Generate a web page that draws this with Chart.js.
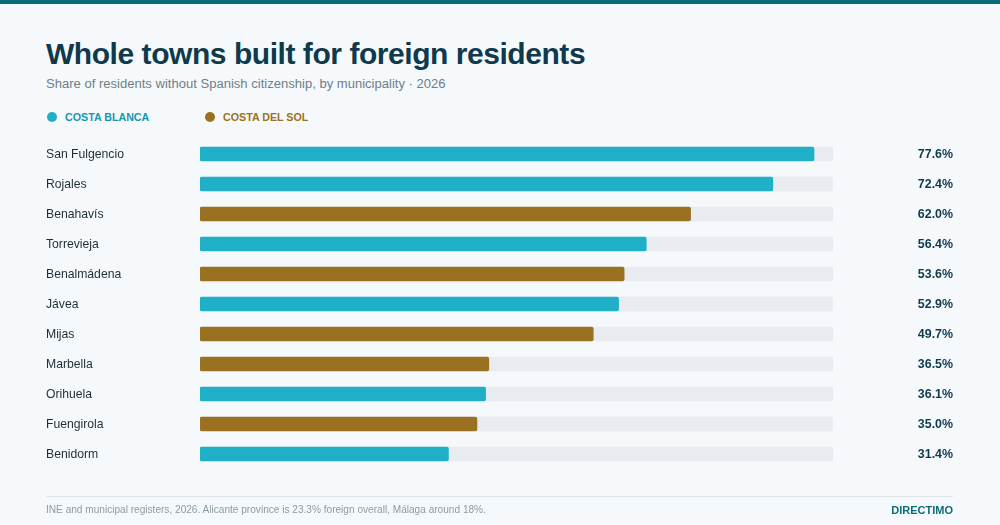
<!DOCTYPE html>
<html><head><meta charset="utf-8">
<style>
html,body{margin:0;padding:0;width:1000px;height:525px;overflow:hidden;background:#f6f9fb;font-family:"Liberation Sans",Arial,sans-serif}
.abs{position:absolute;white-space:nowrap}
#bar{left:0;top:0;width:1000px;height:4px;background:#0e6b78}
#title{left:46px;top:37px;font-size:30px;letter-spacing:-0.45px;line-height:34px;font-weight:700;color:#0f3a4d}
#sub{left:46px;top:75px;font-size:13.05px;line-height:18px;color:#6b7f8a}
.dot{width:10px;height:10px;border-radius:50%;top:112px}
.leg{top:110px;font-size:10.7px;line-height:14px;font-weight:700}
#rule{left:46px;top:496px;width:907px;height:1px;background:#e1e7eb}
#foot{left:46px;top:503px;font-size:10.1px;line-height:14px;color:#8c9ba5}
#brand{right:47px;top:503px;font-size:11px;line-height:14px;font-weight:700;color:#0e6b78}
canvas{position:absolute;left:0;top:0}
</style></head><body>
<div class="abs" id="bar"></div>
<div class="abs" id="title">Whole towns built for foreign residents</div>
<div class="abs" id="sub">Share of residents without Spanish citizenship, by municipality · 2026</div>
<div class="abs dot" style="left:47px;background:#1fb0c8"></div>
<div class="abs leg" style="left:65px;color:#1497ad">COSTA BLANCA</div>
<div class="abs dot" style="left:205px;background:#9a7120"></div>
<div class="abs leg" style="left:223px;color:#9a7120">COSTA DEL SOL</div>
<div style="position:absolute;left:0;top:0;width:1000px;height:525px"><canvas id="c"></canvas></div>
<div class="abs" id="rule"></div>
<div class="abs" id="foot">INE and municipal registers, 2026. Alicante province is 23.3% foreign overall, Málaga around 18%.</div>
<div class="abs" id="brand">DIRECTIMO</div>
<script src="https://cdn.jsdelivr.net/npm/chart.js@4"></script>
<script>
const towns = ["San Fulgencio","Rojales","Benahavís","Torrevieja","Benalmádena","Jávea","Mijas","Marbella","Orihuela","Fuengirola","Benidorm"];
const shares = [77.6,72.4,62.0,56.4,53.6,52.9,49.7,36.5,36.1,35.0,31.4];
const coasts = ["B","B","S","B","S","B","S","S","B","S","B"];
const axisMax = 80;
const trackValues = towns.map(() => axisMax);
const blancaValues = shares.map((v,i) => coasts[i]==="B" ? v : null);
const solValues = shares.map((v,i) => coasts[i]==="S" ? v : null);

const valueLabels = {
  id:"valueLabels",
  afterDatasetsDraw(chart){
    const {ctx} = chart, y = chart.scales.y;
    ctx.save();
    ctx.font = "700 12.4px 'Liberation Sans'";
    ctx.fillStyle = "#0f3a4d";
    ctx.textAlign = "right";
    ctx.textBaseline = "middle";
    shares.forEach((v,i) => ctx.fillText(v.toFixed(1)+"%", 953, y.getPixelForValue(i)+0.5));
    ctx.restore();
  }
};
const barOpts = {barThickness:14, borderRadius:2, borderSkipped:false, grouped:false};
new Chart(document.getElementById("c"),{
  type:"bar",
  data:{labels:towns,datasets:[
    {label:"Costa Blanca",data:blancaValues,backgroundColor:"#1fb0c8",order:1,...barOpts},
    {label:"Costa del Sol",data:solValues,backgroundColor:"#9a7120",order:1,...barOpts},
    {label:"Track",data:trackValues,backgroundColor:"#e8ecf0",order:2,...barOpts}
  ]},
  options:{
    indexAxis:"y",responsive:true,maintainAspectRatio:false,animation:false,
    layout:{padding:{left:46,right:167,top:139,bottom:56}},
    plugins:{legend:{display:false},tooltip:{enabled:false}},
    scales:{
      x:{display:false,min:0,max:axisMax},
      y:{
        grid:{display:false},border:{display:false},
        afterFit(s){s.width=154;},
        ticks:{crossAlign:"far",padding:0,labelOffset:1,autoSkip:false,color:"#1f2d36",font:{family:"'Liberation Sans'",size:12.2}}
      }
    }
  },
  plugins:[valueLabels]
});
</script>
</body></html>
